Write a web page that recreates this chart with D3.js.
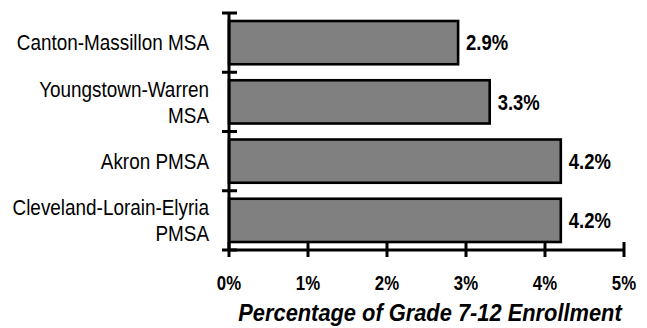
<!DOCTYPE html>
<html><head><meta charset="utf-8">
<script src="https://cdn.jsdelivr.net/npm/d3@7/dist/d3.min.js"></script>
<style>body{margin:0;background:#fff}svg{display:block}</style>
</head><body>
<script>
const categories = [["Canton-Massillon MSA"], ["Youngstown-Warren", "MSA"], ["Akron PMSA"], ["Cleveland-Lorain-Elyria", "PMSA"]];
const values = [2.9, 3.3, 4.2, 4.2];
const valueLabels = ["2.9%", "3.3%", "4.2%", "4.2%"];
const xTicks = [0, 1, 2, 3, 4, 5];
const xTickLabels = ["0%", "1%", "2%", "3%", "4%", "5%"];
const axisTitle = "Percentage of Grade 7-12 Enrollment";

const W = 647, H = 328;
const font = "'Liberation Sans', Arial, sans-serif";
const svg = d3.select("body").append("svg").attr("width", W).attr("height", H);

const x = d3.scaleLinear().domain([0, 5]).range([229, 624]);
const idx = categories.map((d, i) => i);
const y = d3.scaleBand().domain(idx).range([13, 250]).paddingInner(0.27).paddingOuter(0.135);

// condensed text helper: place at (tx,ty) scaled horizontally by sx
function ctext(g, tx, ty, sx, size, anchor, txt, weight, style) {
  return g.append("text")
    .attr("transform", `translate(${tx},${ty}) scale(${sx},1)`)
    .attr("dy", "0.35em").attr("text-anchor", anchor)
    .attr("font-family", font).attr("font-size", size)
    .attr("font-weight", weight || "normal").attr("font-style", style || "normal")
    .attr("fill", "#000").text(txt);
}

// bars
svg.selectAll("rect.bar").data(values).join("rect")
  .attr("class", "bar")
  .attr("x", x(0)).attr("y", (d, i) => y(i))
  .attr("width", d => x(d) - x(0)).attr("height", y.bandwidth())
  .attr("fill", "#808080").attr("stroke", "#000").attr("stroke-width", 2.6);

// value labels
values.forEach((d, i) => {
  ctext(svg, x(d) + 8, y(i) + y.bandwidth() / 2, 0.84, 22, "start", valueLabels[i], "bold");
});

// y axis
svg.append("line").attr("x1", x(0)).attr("x2", x(0)).attr("y1", 13).attr("y2", 250)
  .attr("stroke", "#000").attr("stroke-width", 3);
const yTickPos = idx.map(i => y(i) - y.step() * y.paddingOuter()).concat([y.range()[1]]);
svg.selectAll("line.ytick").data(yTickPos).join("line")
  .attr("x1", x(0) - 7).attr("x2", x(0) + 8)
  .attr("y1", d => d).attr("y2", d => d)
  .attr("stroke", "#000").attr("stroke-width", 3);

// x axis
svg.append("line").attr("x1", x(0)).attr("x2", x(5)).attr("y1", 250).attr("y2", 250)
  .attr("stroke", "#000").attr("stroke-width", 3);
svg.selectAll("line.xtick").data(xTicks).join("line")
  .attr("x1", d => x(d)).attr("x2", d => x(d)).attr("y1", 242).attr("y2", 257)
  .attr("stroke", "#000").attr("stroke-width", 3);
xTicks.forEach((d, i) => {
  ctext(svg, x(d), 283, 0.8, 21, "middle", xTickLabels[i], "bold");
});

// category labels
categories.forEach((lines, i) => {
  const cy = y(i) + y.bandwidth() / 2;
  const lh = 26;
  lines.forEach((t, j) => {
    ctext(svg, 209, cy + (j - (lines.length - 1) / 2) * lh, 0.86, 22, "end", t);
  });
});

ctext(svg, 430, 313, 0.91, 24, "middle", axisTitle, "bold", "italic");
</script>
</body></html>
